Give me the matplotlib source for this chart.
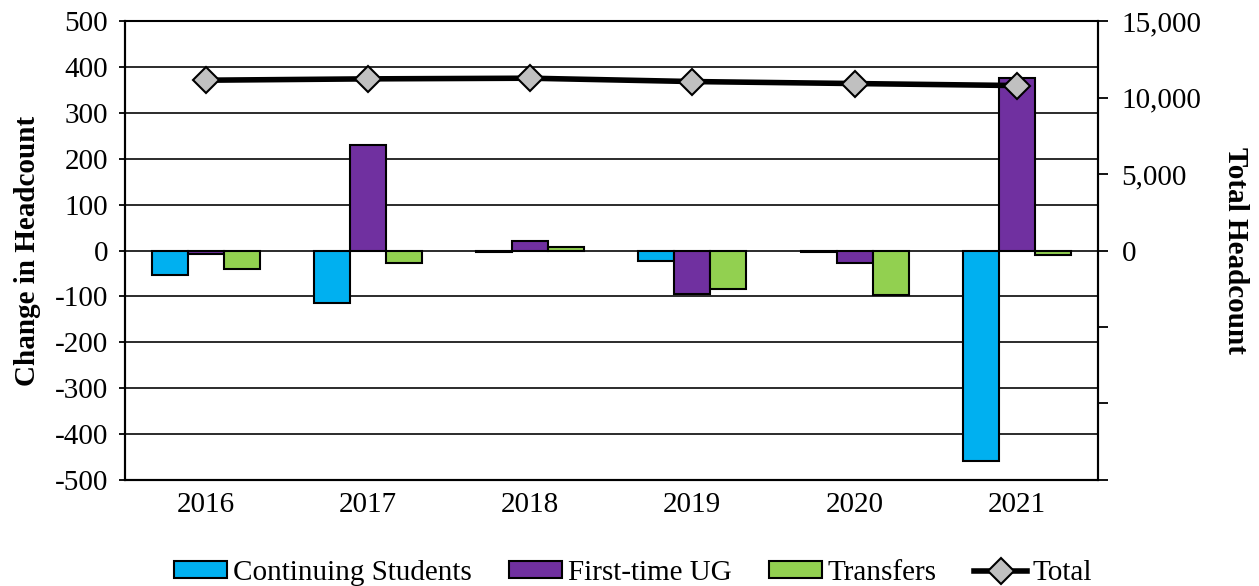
import matplotlib.pyplot as plt
import matplotlib.ticker as mticker
import numpy as np

years = ['2016', '2017', '2018', '2019', '2020', '2021']
continuing = [-53, -115, -3, -22, -4, -458]
first_time = [-7, 229, 21, -94, -28, 376]
transfers = [-41, -28, 7, -84, -97, -10]
total = [11135, 11223, 11266, 11048, 10917, 10786]

plt.rcParams['font.family'] = ['Liberation Serif', 'DejaVu Serif']
plt.rcParams['axes.unicode_minus'] = False

fig, ax = plt.subplots(figsize=(12.59, 5.86), dpi=100)
fig.subplots_adjust(left=0.099, right=0.872, top=0.964, bottom=0.181)

x = np.arange(len(years))
w = 0.222
ax.bar(x - w, continuing, w, color='#00B0F0', edgecolor='black', linewidth=1.5,
       label='Continuing Students', zorder=3)
ax.bar(x, first_time, w, color='#7030A0', edgecolor='black', linewidth=1.5,
       label='First-time UG', zorder=3)
ax.bar(x + w, transfers, w, color='#92D050', edgecolor='black', linewidth=1.5,
       label='Transfers', zorder=3)

ax.set_xlim(-0.5, len(years) - 0.5)
ax.set_ylim(-500, 500)
ax.set_yticks(np.arange(-500, 501, 100))
ax.yaxis.grid(True, color='#1a1a1a', linewidth=1.3, zorder=0)
ax.set_axisbelow(True)
ax.set_xticks(x)
ax.set_xticklabels(years)
ax.tick_params(axis='x', length=0, labelsize=21, pad=9)
ax.tick_params(axis='y', length=4, width=1.3, labelsize=21, pad=8)
ax.set_ylabel('Change in Headcount', fontsize=21, fontweight='bold', labelpad=10)

ax2 = ax.twinx()
ax2.plot(x, total, color='black', linewidth=4, marker='D', markersize=13,
         markerfacecolor='#C0C0C0', markeredgecolor='black', markeredgewidth=1.5,
         label='Total', zorder=5)
ax2.set_ylim(-15000, 15000)
ax2.set_yticks(np.arange(-15000, 15001, 5000))
ax2.yaxis.set_major_formatter(mticker.FuncFormatter(
    lambda v, p: f'{int(v):,}' if v >= 0 else ''))
ax2.tick_params(axis='y', length=7, width=1.3, labelsize=21, pad=10)
ax2.set_ylabel('Total Headcount', fontsize=21, fontweight='bold',
               rotation=-90, labelpad=34)

for a in (ax, ax2):
    for s in a.spines.values():
        s.set_linewidth(1.5)
        s.set_color('black')
ax2.spines['top'].set_visible(False)

h1, l1 = ax.get_legend_handles_labels()
h2, l2 = ax2.get_legend_handles_labels()
fig.legend(h1 + h2, l1 + l2, loc='lower center', ncol=4, frameon=False,
           fontsize=21, bbox_to_anchor=(0.503, -0.045), handlelength=1.8,
           handleheight=0.5, handletextpad=0.2, columnspacing=1.3)

fig.savefig('out.png')
